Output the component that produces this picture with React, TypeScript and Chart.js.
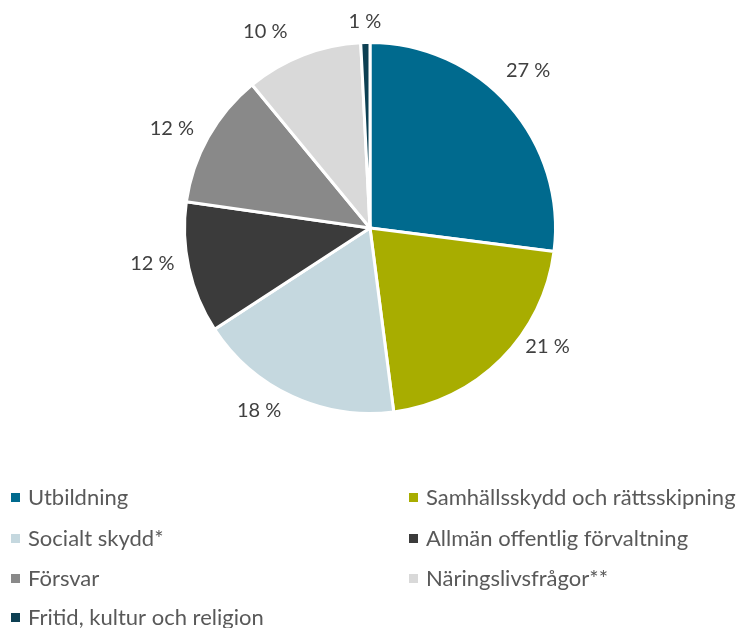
import React, { useEffect, useRef } from "react";
import { Chart, registerables } from "chart.js";

Chart.register(...registerables);

const categories = [
  "Utbildning",
  "Samhällsskydd och rättsskipning",
  "Socialt skydd*",
  "Allmän offentlig förvaltning",
  "Försvar",
  "Näringslivsfrågor**",
  "Fritid, kultur och religion",
];
const values = [27.1, 21.0, 17.9, 11.5, 11.8, 10.2, 0.8];
const valueLabels = ["27 %", "21 %", "18 %", "12 %", "12 %", "10 %", "1 %"];
const colors = ["#006A8E", "#A8AD00", "#C5D8DF", "#3B3B3B", "#898989", "#D9D9D9", "#0D4053"];

// label placement tweaks (degrees of rotation, extra radial distance in px)
const labelAngleShift = [-3.6, -11.2, 6.5, 3.1, -2.8, -6.9, 0];
const labelDistance = [38, 28, 28, 35, 36, 37, 21];

const FONT = "Lato, 'Open Sans', sans-serif";

const labelPlugin = {
  id: "outLabels",
  afterDatasetsDraw(chart: any) {
    const ctx = chart.ctx;
    const meta = chart.getDatasetMeta(0);
    ctx.save();
    ctx.font = `20px ${FONT}`;
    ctx.fillStyle = "#404040";
    ctx.textAlign = "center";
    ctx.textBaseline = "middle";
    meta.data.forEach((arc: any, i: number) => {
      const { x, y, startAngle, endAngle, outerRadius } = arc.getProps(
        ["x", "y", "startAngle", "endAngle", "outerRadius"],
        true
      );
      const mid = (startAngle + endAngle) / 2 + (labelAngleShift[i] * Math.PI) / 180;
      const r = outerRadius + labelDistance[i];
      ctx.fillText(valueLabels[i], x + Math.cos(mid) * r, y + Math.sin(mid) * r);
    });
    ctx.restore();
  },
};

const legendPlugin = {
  id: "customLegend",
  afterDraw(chart: any) {
    const ctx = chart.ctx;
    ctx.save();
    ctx.font = `22px ${FONT}`;
    ctx.textBaseline = "middle";
    ctx.textAlign = "left";
    const colX = [11, 409];
    const rowY = [498, 539, 579, 618];
    categories.forEach((c, i) => {
      const col = i % 2;
      const row = Math.floor(i / 2);
      const x = colX[col];
      const y = rowY[row];
      ctx.fillStyle = colors[i];
      ctx.fillRect(x, y - 5, 9, 9);
      ctx.fillStyle = "#595959";
      ctx.fillText(c, x + 17, y);
    });
    ctx.restore();
  },
};

export default function App() {
  const ref = useRef<HTMLCanvasElement>(null);
  useEffect(() => {
    if (!ref.current) return;
    const chart = new Chart(ref.current, {
      type: "pie",
      data: {
        labels: categories,
        datasets: [
          {
            data: values,
            backgroundColor: colors,
            borderColor: "#FFFFFF",
            borderWidth: 3,
          },
        ],
      },
      options: {
        responsive: false,
        animation: false,
        layout: { padding: { left: 183, right: 186, top: 41, bottom: 213 } },
        plugins: {
          legend: { display: false },
          tooltip: { enabled: false },
        },
      },
      plugins: [labelPlugin, legendPlugin],
    });
    return () => chart.destroy();
  }, []);
  return (
    <div style={{ position: "fixed", left: 0, top: 0, width: 743, height: 628, background: "#fff" }}>
      <canvas ref={ref} width={743} height={628} />
    </div>
  );
}
